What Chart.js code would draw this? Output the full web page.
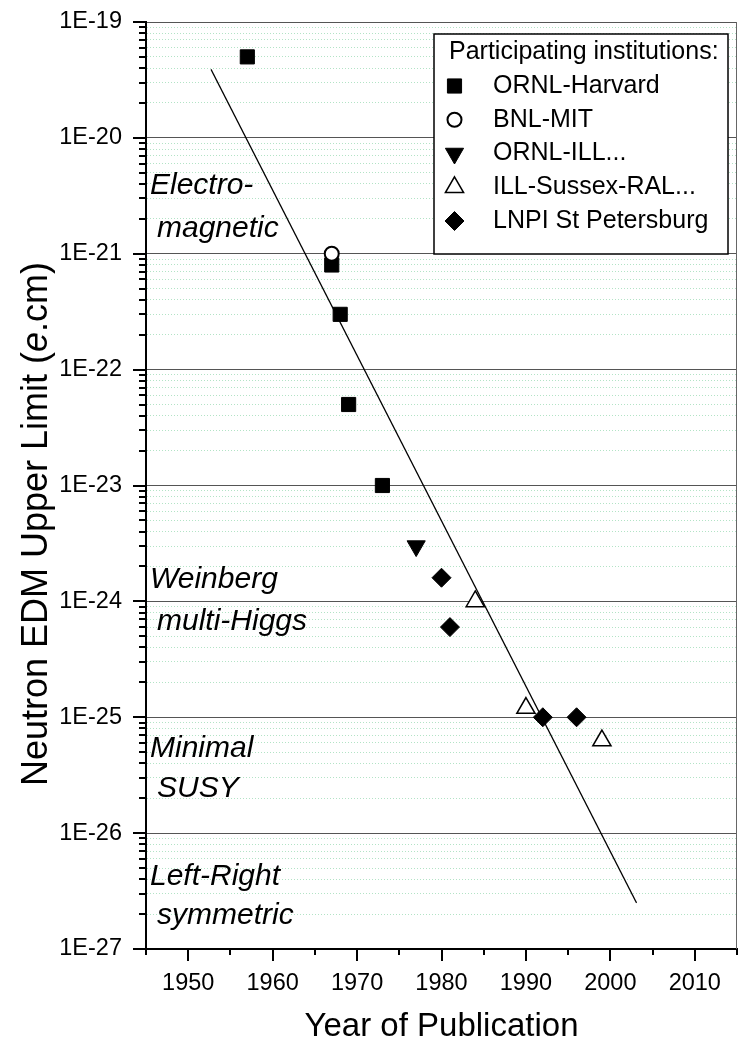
<!DOCTYPE html>
<html>
<head>
<meta charset="utf-8">
<script src="https://cdn.jsdelivr.net/npm/chart.js@4/dist/chart.umd.min.js"></script>
<style>
  html, body { margin: 0; padding: 0; background: #fff; }
  #wrap { width: 739px; height: 1051px; position: relative; }
</style>
</head>
<body>
<div id="wrap"><canvas id="edmChart"></canvas></div>
<script>
// data (year of publication, upper limit in e.cm)
const ornlHarvardYears = [1957, 1967, 1968, 1969, 1973];
const ornlHarvardLimits = [5e-20, 8e-22, 3e-22, 5e-23, 1e-23];
const bnlMitYears = [1967];
const bnlMitLimits = [1e-21];
const ornlIllYears = [1977];
const ornlIllLimits = [3e-24];
const illSussexYears = [1984, 1990, 1999];
const illSussexLimits = [1e-24, 1.2e-25, 6.3e-26];
const lnpiYears = [1980, 1981, 1992, 1996];
const lnpiLimits = [1.6e-24, 6e-25, 1e-25, 1e-25];
const fitYears = [1952.7, 2003.1];
const fitLimits = [3.9e-20, 2.5e-27];

const decadeLabels = ['1E-27', '1E-26', '1E-25', '1E-24', '1E-23', '1E-22', '1E-21', '1E-20', '1E-19'];
const yearLabels = [1950, 1960, 1970, 1980, 1990, 2000, 2010];
const theoryLabels = [['Electro-', 'magnetic'], ['Weinberg', 'multi-Higgs'], ['Minimal', 'SUSY'], ['Left-Right', 'symmetric']];

const FONT = '"Liberation Sans", Arial, Helvetica, sans-serif';

function pts(xs, ys) {
    return xs.map((x, i) => ({ x: x, y: ys[i] }));
}

function isDecade(v) {
    const e = Math.log10(v);
    return Math.abs(e - Math.round(e)) < 1e-6;
}

// tick marks, frame, legend, theory labels, y title
const decorations = {
    id: 'decorations',
    afterDraw(chart) {
        const ctx = chart.ctx;
        const a = chart.chartArea;
        const xs = chart.scales.x;
        const ys = chart.scales.y;
        ctx.save();

        ctx.strokeStyle = '#666';
        ctx.lineWidth = 1;
        ctx.beginPath();
        ctx.moveTo(a.right - 0.5, a.top);
        ctx.lineTo(a.right - 0.5, a.bottom);
        ctx.stroke();

        ctx.strokeStyle = '#000';
        ctx.lineWidth = 2;
        ctx.beginPath();
        ys.ticks.forEach(t => {
            const py = Math.round(ys.getPixelForValue(t.value));
            const len = isDecade(t.value) ? 13 : 7;
            ctx.moveTo(a.left, py);
            ctx.lineTo(a.left - len, py);
        });
        xs.ticks.forEach(t => {
            const px = Math.round(xs.getPixelForValue(t.value));
            const len = t.value % 10 === 0 ? 12 : 6;
            ctx.moveTo(px, a.bottom);
            ctx.lineTo(px, a.bottom + len);
        });
        ctx.stroke();

        // theory labels (baselines, offset from top of plot)
        const spots = [[172, 215], [566, 608], [735, 775], [863, 902]];
        ctx.fillStyle = '#000';
        ctx.font = 'italic 30px ' + FONT;
        ctx.textAlign = 'left';
        ctx.textBaseline = 'alphabetic';
        theoryLabels.forEach((pair, i) => {
            ctx.fillText(pair[0], a.left + 4, a.top + spots[i][0]);
            ctx.fillText(pair[1], a.left + 11, a.top + spots[i][1]);
        });

        // legend
        const bx = a.right - 303, by = a.top + 12, bw = 294, bh = 220;
        ctx.fillStyle = '#fff';
        ctx.fillRect(bx, by, bw, bh);
        ctx.strokeStyle = '#000';
        ctx.lineWidth = 1.5;
        ctx.strokeRect(bx, by, bw, bh);
        ctx.fillStyle = '#000';
        ctx.font = '25px ' + FONT;
        ctx.textBaseline = 'middle';
        ctx.fillText('Participating institutions:', bx + 15, by + 18);
        const sets = chart.data.datasets.filter(d => !d.isFit);
        sets.forEach((d, i) => {
            const ry = by + 52 + i * 33.75;
            ctx.fillStyle = '#000';
            ctx.fillText(d.label, bx + 59, ry);
            if (Chart.helpers && Chart.helpers.drawPoint) {
                ctx.fillStyle = d.backgroundColor;
                ctx.strokeStyle = d.borderColor;
                ctx.lineWidth = d.borderWidth;
                Chart.helpers.drawPoint(ctx, {
                    pointStyle: d.pointStyle,
                    rotation: d.rotation || 0,
                    radius: d.pointRadius,
                    borderWidth: d.borderWidth
                }, bx + 20.5, ry);
            }
        });

        // y axis title with italic e
        ctx.translate(47, 524);
        ctx.rotate(-Math.PI / 2);
        ctx.textBaseline = 'alphabetic';
        const parts = [['Neutron EDM Upper Limit (', ''], ['e', 'italic '], ['.cm)', '']];
        let total = 0;
        parts.forEach(p => { ctx.font = p[1] + '36px ' + FONT; total += ctx.measureText(p[0]).width; });
        let cx = -total / 2;
        ctx.fillStyle = '#000';
        parts.forEach(p => {
            ctx.font = p[1] + '36px ' + FONT;
            ctx.fillText(p[0], cx, 0);
            cx += ctx.measureText(p[0]).width;
        });
        ctx.restore();
    }
};

const ctx = document.getElementById('edmChart').getContext('2d');

const chart = new Chart(ctx, {
    type: 'scatter',
    data: {
        datasets: [
            {
                label: 'ORNL-Harvard',
                data: pts(ornlHarvardYears, ornlHarvardLimits),
                pointStyle: 'rect',
                pointRadius: 10,
                backgroundColor: '#000',
                borderColor: '#000',
                borderWidth: 1,
                order: 2
            },
            {
                label: 'BNL-MIT',
                data: pts(bnlMitYears, bnlMitLimits),
                pointStyle: 'circle',
                pointRadius: 7,
                backgroundColor: '#fff',
                borderColor: '#000',
                borderWidth: 2,
                order: 1
            },
            {
                label: 'ORNL-ILL...',
                data: pts(ornlIllYears, ornlIllLimits),
                pointStyle: 'triangle',
                rotation: 180,
                pointRotation: 180,
                pointRadius: 10.5,
                backgroundColor: '#000',
                borderColor: '#000',
                borderWidth: 1,
                order: 2
            },
            {
                label: 'ILL-Sussex-RAL...',
                data: pts(illSussexYears, illSussexLimits),
                pointStyle: 'triangle',
                pointRadius: 10.5,
                backgroundColor: '#fff',
                borderColor: '#000',
                borderWidth: 1.5,
                order: 2
            },
            {
                label: 'LNPI St Petersburg',
                data: pts(lnpiYears, lnpiLimits),
                pointStyle: 'rectRot',
                pointRadius: 9.5,
                backgroundColor: '#000',
                borderColor: '#000',
                borderWidth: 1,
                order: 2
            },
            {
                label: 'fit',
                isFit: true,
                data: pts(fitYears, fitLimits),
                showLine: true,
                pointRadius: 0,
                borderColor: '#000',
                borderWidth: 1.2,
                order: 5
            }
        ]
    },
    options: {
        responsive: true,
        maintainAspectRatio: false,
        animation: false,
        events: [],
        layout: { autoPadding: false, padding: { top: 22, right: 2, left: 0, bottom: 0 } },
        plugins: {
            legend: { display: false },
            tooltip: { enabled: false }
        },
        scales: {
            x: {
                type: 'linear',
                position: 'bottom',
                min: 1945,
                max: 2015,
                grid: { display: false, drawTicks: false },
                border: { color: '#000', width: 2 },
                ticks: {
                    stepSize: 5,
                    autoSkip: false,
                    maxRotation: 0,
                    padding: 20,
                    color: '#000',
                    font: { family: FONT, size: 23.5 },
                    callback: (v) => yearLabels.includes(v) ? String(v) : ''
                },
                title: {
                    display: true,
                    text: 'Year of Publication',
                    color: '#000',
                    font: { family: FONT, size: 33 },
                    padding: { top: 0, bottom: 4 }
                },
                afterFit: (s) => {
                    s.height = 102;
                    s.paddingLeft = 0;
                    s.paddingRight = 0;
                }
            },
            y: {
                type: 'logarithmic',
                min: 1e-27,
                max: 1e-19,
                grid: {
                    drawTicks: false,
                    lineWidth: 1,
                    color: (c) => (c.tick && isDecade(c.tick.value)) ? '#555' : '#b3e3c6'
                },
                border: {
                    color: '#000',
                    width: 2,
                    dash: (c) => (c.tick && !isDecade(c.tick.value)) ? [1, 2] : []
                },
                ticks: {
                    autoSkip: false,
                    padding: 24,
                    color: '#000',
                    font: { family: FONT, size: 23.5 },
                    callback: (v) => {
                        const lbl = decadeLabels.find(l => Math.abs(Number(l) / v - 1) < 1e-6);
                        return lbl || '';
                    }
                },
                afterBuildTicks: (scale) => {
                    const ticks = [];
                    decadeLabels.forEach((l, i) => {
                        const base = Number(l);
                        const steps = i === decadeLabels.length - 1 ? 1 : 9;
                        for (let m = 1; m <= steps; m++) ticks.push({ value: m * base });
                    });
                    scale.ticks = ticks;
                },
                afterFit: (s) => {
                    s.width = 146;
                    s.paddingTop = 0;
                    s.paddingBottom = 0;
                }
            }
        }
    },
    plugins: [decorations]
});
</script>
</body>
</html>
